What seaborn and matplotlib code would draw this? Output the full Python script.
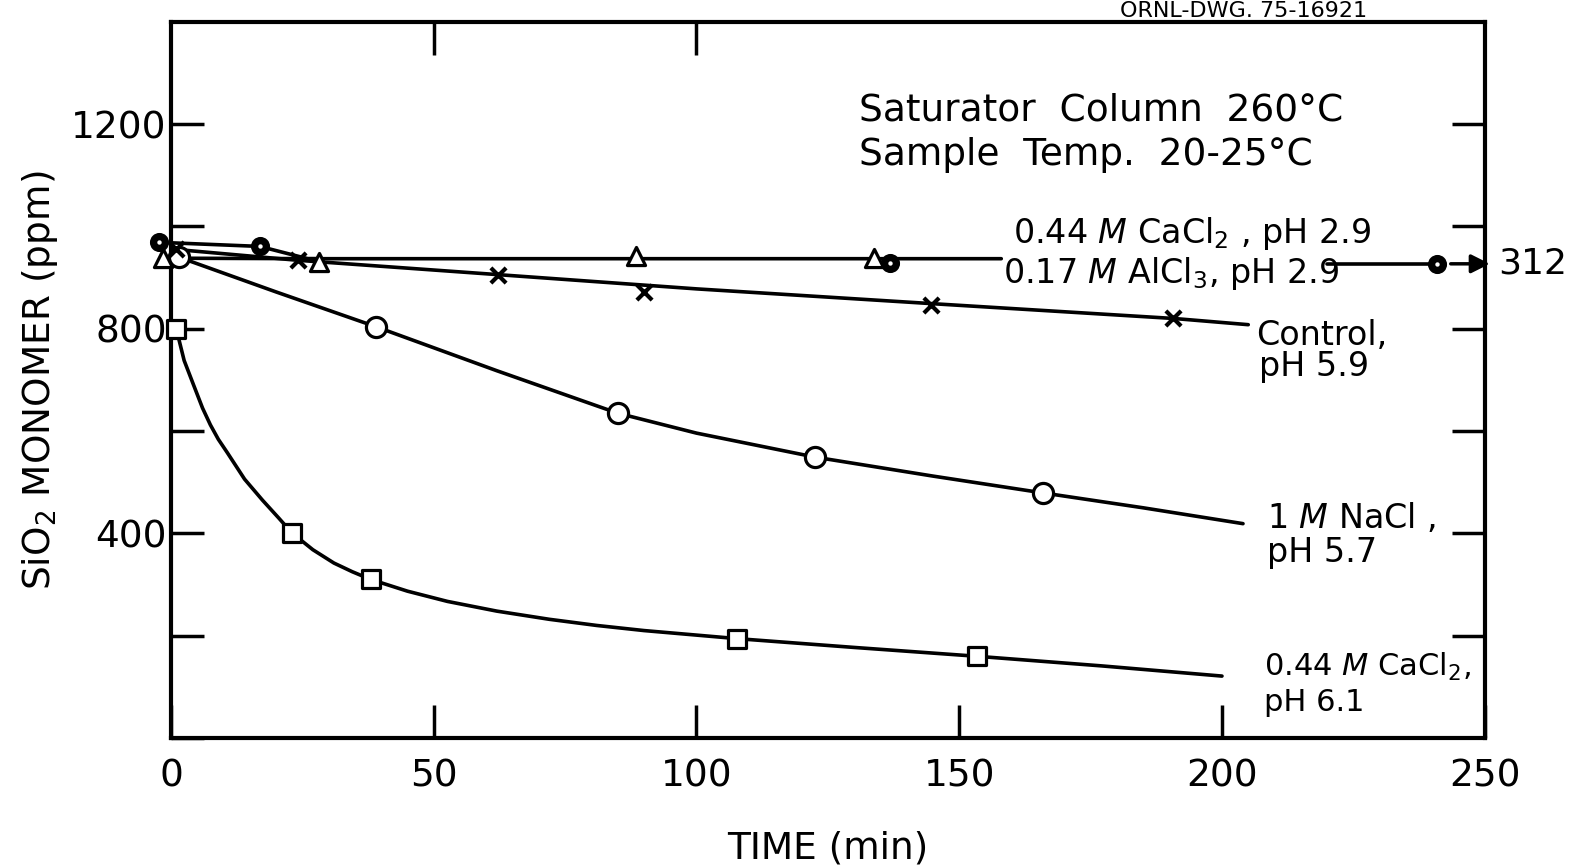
import numpy as np
import pandas as pd
import seaborn as sns
import matplotlib.pyplot as plt

# values (time in min, SiO2 monomer in ppm)

# 0.44 M CaCl2, pH 6.1  (open squares)
sq_t = [1, 23, 38, 107.7, 153.4]
sq_v = [800, 401, 310, 194, 160]
sq_curve_t = [1, 2.5, 4.3, 6, 7.5, 9, 10.7, 14, 17.4, 20.5, 23, 27, 31, 34.5, 38, 45, 52.6, 62, 72, 81,
              90, 108, 130, 153, 177, 200]
sq_curve_v = [800, 738, 690, 645, 612, 584, 558, 506, 465, 430, 401, 368, 342, 325, 310, 287, 267, 248,
              232, 220, 210, 194, 177, 160, 141, 121]

# 1 M NaCl, pH 5.7  (open circles)
nacl_t = [1.5, 39, 85, 122.6, 165.9]
nacl_v = [940, 804, 635, 549, 479]
nacl_curve_t = [1.5, 20, 39, 62, 85, 100, 122.6, 145, 166, 185, 204]
nacl_curve_v = [940, 872, 804, 718, 635, 596, 549, 512, 479, 450, 419]

# Control, pH 5.9  (x)
ctrl_t = [1, 24.2, 62.2, 90, 144.7, 190.7]
ctrl_v = [955, 934, 906, 871, 846, 822]
ctrl_curve_t = [1, 24, 62, 100, 145, 191, 205]
ctrl_curve_v = [955, 934, 906, 878, 849, 820, 808]

# 0.44 M CaCl2, pH 2.9  (open triangles)
cacl_t = [-1.5, 28.2, 88.4, 133.8]
cacl_v = [938, 931, 942, 938]
cacl_curve_t = [-1.5, 28]
cacl_curve_v = [938, 937]

# 0.17 M AlCl3, pH 2.9  (dotted circles); last point is the 312 min sample
alcl_t = [-2.3, 16.9, 136.9, 241]
alcl_v = [969, 961, 929, 927]
alcl_curve_t = [-2.3, 16.9, 26, 60, 100, 137, 158]
alcl_curve_v = [969, 961, 937, 937, 937, 937, 937]
alcl_tail_t = [220, 241]
alcl_tail_v = [927, 927]

x_ticks = [0, 50, 100, 150, 200, 250]
y_ticks = [0, 200, 400, 600, 800, 1000, 1200]
y_ticklabels = ['', '', '400', '', '800', '', '1200']

sns.set_style('ticks')
plt.rcParams['font.family'] = ['DejaVu Sans']
plt.rcParams['mathtext.fontset'] = 'dejavusans'
for k in ['text.color', 'axes.edgecolor', 'axes.labelcolor', 'xtick.color', 'ytick.color']:
    plt.rcParams[k] = 'black'

fig = plt.figure(figsize=(15.79, 8.68), dpi=100)
fig.patch.set_facecolor('white')
ax = fig.add_axes([0.1083, 0.1498, 0.832, 0.825])
ax.set_facecolor('white')

lw = 2.6
for t, v in [(sq_curve_t, sq_curve_v), (nacl_curve_t, nacl_curve_v),
             (ctrl_curve_t, ctrl_curve_v), (cacl_curve_t, cacl_curve_v),
             (alcl_curve_t, alcl_curve_v), (alcl_tail_t, alcl_tail_v)]:
    sns.lineplot(x=t, y=v, ax=ax, color='black', lw=lw, sort=False,
                 estimator=None, zorder=2)

mk = dict(ax=ax, facecolor='white', edgecolor='black', linewidth=2.3,
          zorder=4, clip_on=False, legend=False)
sns.scatterplot(x=sq_t, y=sq_v, marker='s', s=150, **mk)
sns.scatterplot(x=nacl_t, y=nacl_v, marker='o', s=210, **mk)
sns.scatterplot(x=cacl_t, y=cacl_v, marker='^', s=170, **mk)
sns.scatterplot(x=ctrl_t, y=ctrl_v, marker='x', s=120, color='black', linewidth=3,
                ax=ax, zorder=4, clip_on=False, legend=False)
sns.scatterplot(x=alcl_t, y=alcl_v, marker='o', s=150, color='black', edgecolor='black',
                linewidth=1.5, ax=ax, zorder=5, clip_on=False, legend=False)
sns.scatterplot(x=alcl_t, y=alcl_v, marker='o', s=10, color='white', linewidth=0,
                ax=ax, zorder=6, clip_on=False, legend=False)

# arrow to the off-scale 312 min sample
ax.annotate('', xy=(251.5, 927), xytext=(243, 927),
            arrowprops=dict(arrowstyle='-|>', color='black', lw=2.5, mutation_scale=28),
            annotation_clip=False)
ax.text(252.5, 927, '312', fontsize=26, va='center', ha='left')

ax.set_xlim(0, 250)
ax.set_ylim(0, 1400)
ax.set_xticks(x_ticks)
ax.set_yticks(y_ticks)
ax.set_yticklabels(y_ticklabels)
ax.tick_params(direction='in', length=24, width=2.5, labelsize=27)
ax.tick_params(axis='y', pad=3)
ax.tick_params(axis='x', pad=15)
for sp in ax.spines.values():
    sp.set_linewidth(3)
    sp.set_visible(True)

top = ax.secondary_xaxis('top')
top.set_xticks([50, 100])
top.tick_params(direction='in', length=24, width=2.5, labeltop=False)
right = ax.secondary_yaxis('right')
right.set_yticks([200, 400, 600, 800, 1000, 1200])
right.tick_params(direction='in', length=24, width=2.5, labelright=False)

ax.set_xlabel('TIME (min)', fontsize=27, labelpad=26)
ax.set_ylabel('SiO$_2$ MONOMER (ppm)', fontsize=27, labelpad=8)

lab = dict(fontsize=24, va='baseline', ha='left')
ax.text(160.2, 968, '0.44 $\\mathit{M}$ CaCl$_2$ , pH 2.9', **lab)
ax.text(158.4, 890, '0.17 $\\mathit{M}$ AlCl$_3$, pH 2.9', **lab)
ax.text(206.5, 769, 'Control,', **lab)
ax.text(207, 707, 'pH 5.9', **lab)
ax.text(208.5, 410, '1 $\\mathit{M}$ NaCl ,', **lab)
ax.text(208.5, 345, 'pH 5.7', **lab)
ax.text(208, 122, '0.44 $\\mathit{M}$ CaCl$_2$,', fontsize=22, va='baseline', ha='left')
ax.text(208, 52, 'pH 6.1', fontsize=22, va='baseline', ha='left')

ax.text(131, 1208, 'Saturator  Column  260°C', fontsize=27, va='baseline', ha='left')
ax.text(131, 1120, 'Sample  Temp.  20-25°C', fontsize=27, va='baseline', ha='left')

fig.text(0.709, 0.999, 'ORNL-DWG. 75-16921', fontsize=16, va='top', ha='left')

fig.savefig('out.png', dpi=100, facecolor='white')
